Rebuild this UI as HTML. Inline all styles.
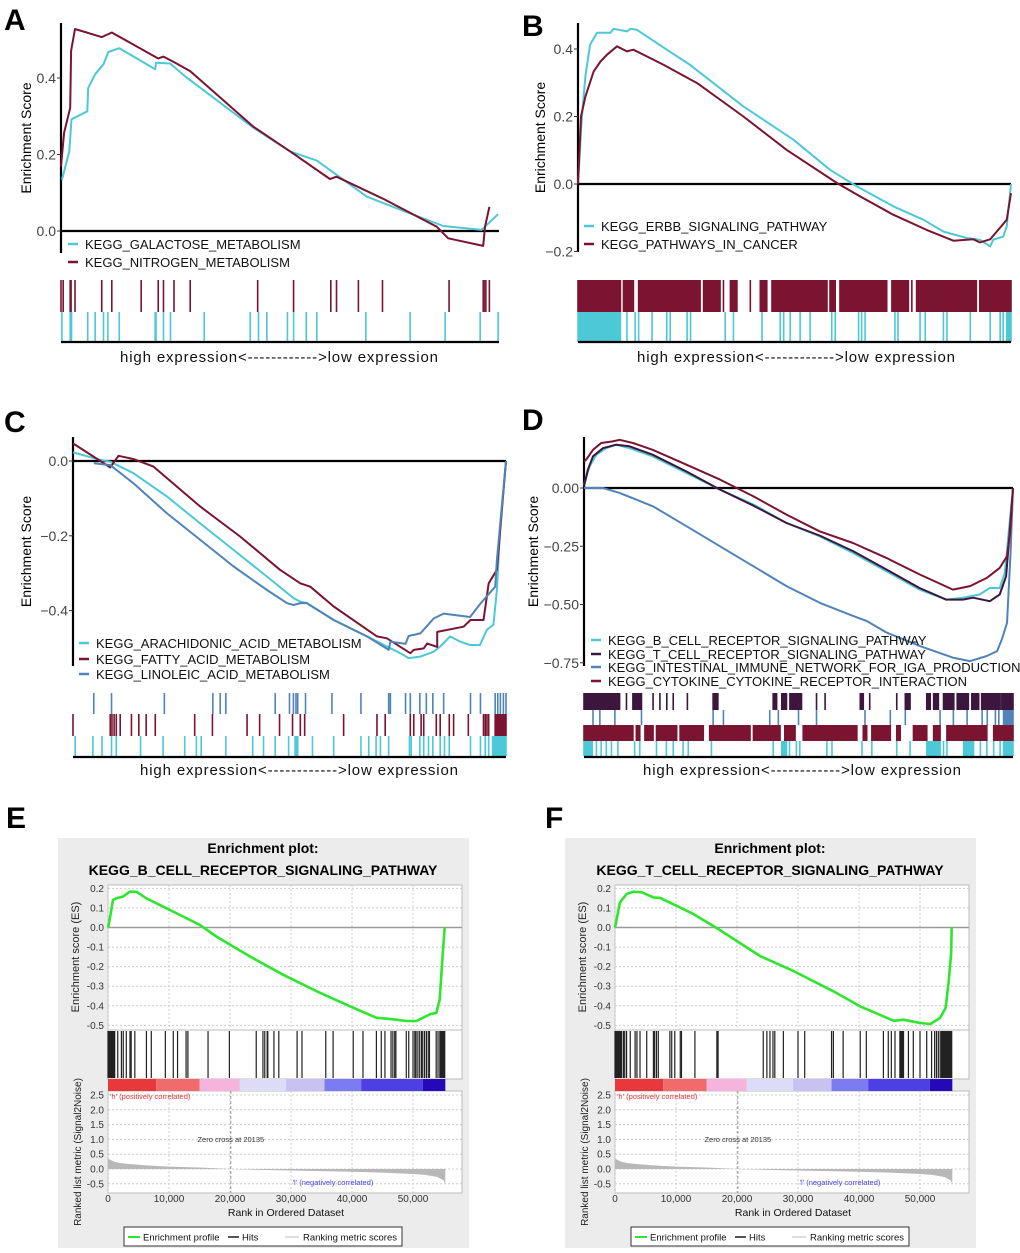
<!DOCTYPE html>
<html><head><meta charset="utf-8">
<style>
html,body{margin:0;padding:0;background:#fff;}
svg{display:block;font-family:"Liberation Sans",Arial,sans-serif;}
</style></head>
<body>
<svg id="fig" width="1020" height="1253" viewBox="0 0 1020 1253">
<rect x="0" y="0" width="1020" height="1253" fill="#fff"/>
<text x="4" y="30" font-size="30" font-weight="bold">A</text>
<text x="522" y="36" font-size="30" font-weight="bold">B</text>
<text x="4" y="432" font-size="30" font-weight="bold">C</text>
<text x="522" y="430" font-size="30" font-weight="bold">D</text>
<text x="6" y="828" font-size="30" font-weight="bold">E</text>
<text x="545" y="828" font-size="30" font-weight="bold">F</text>
</svg>
<script>
const NS='http://www.w3.org/2000/svg';
const fig=document.getElementById('fig');
const CY='#4cc8d6', RD='#7b1430', BL='#4f83b9', PU='#3d163d';

// ---------- Panel A data (rank %, enrichment score) ----------
const aGalRank=[0.2,1.9,2.4,6.0,6.2,7.8,9.7,10.8,13.3,21.5,21.7,24.9,28.7,43.9,52.3,58.4,69.8,79.7,87.3,96.0,99.8];
const aGalES=[0.134,0.208,0.292,0.313,0.374,0.41,0.436,0.468,0.478,0.423,0.44,0.438,0.401,0.27,0.208,0.184,0.09,0.046,0.013,0.003,0.044];
const aNitRank=[0,0.7,2.1,2.3,3.2,9.3,11.6,22.2,23.4,25.6,29.5,43.9,53.0,61.4,62.9,73.6,85.8,88.4,96.4,96.8,97.8];
const aNitES=[0.169,0.257,0.322,0.471,0.528,0.507,0.519,0.451,0.456,0.443,0.418,0.273,0.203,0.136,0.142,0.084,0.011,-0.019,-0.039,0.011,0.063];
const aNitHits=[0,0.5,2.1,2.3,3.2,9.3,11.6,18.3,22.2,23.4,25.8,29.5,44.9,53.1,61.6,62.9,67.9,73.4,88.6,96.4,96.6,97.0,97.8];
const aGalHits=[0.2,2.1,2.4,6.1,7.8,9.7,10.7,13.3,21.5,21.7,23.4,25.0,32.7,43.2,45.1,47.0,51.7,53.1,56.0,58.4,69.6,79.7,87.7,95.7,99.8];

// ---------- Panel B data ----------
const bErbbRank=[0,0.9,1.7,2.8,4.4,7.5,8.2,11.3,12.1,13.6,20.5,25.9,38.2,49.8,58.2,64.4,72.8,79.8,84.4,89.8,92.8,95.2,95.9,98.2,99.0,100];
const bErbbES=[0,0.2,0.319,0.413,0.448,0.448,0.46,0.452,0.46,0.457,0.398,0.353,0.23,0.131,0.042,-0.007,-0.066,-0.106,-0.141,-0.16,-0.165,-0.185,-0.165,-0.156,-0.126,0];
const bCanRank=[0,0.7,1.7,3.6,5.2,6.7,9.0,11.3,12.8,16.7,19.8,27.5,38.2,48.2,59.8,65.2,72.8,80.5,86.7,91.3,92.8,95.2,96.7,99.0,100];
const bCanES=[0,0.2,0.259,0.333,0.363,0.383,0.408,0.393,0.398,0.373,0.353,0.299,0.2,0.101,0.003,-0.037,-0.091,-0.136,-0.168,-0.164,-0.173,-0.164,-0.141,-0.106,-0.027];
const bCanHits=[[0,9.8],[10.5,12.8],[14,28.2],[29,32.8],33.6,[35.2,36.7],39.8,[42.1,43.6],[44.8,57.5],[58.2,59.4],[60.5,71.3],[72.5,76.3],77.1,[78.2,92],[92.8,100]];
const bErbbHits=[[0,9.8],11.3,13.2,14.0,17.1,20.5,21.3,25.2,26.0,34.0,35.9,42.5,46.7,47.5,49.0,51.3,53.6,58.6,59.4,64.8,65.5,66.3,73.2,73.9,79.0,80.2,84.4,85.2,90.6,95.2,97.5,98.2,[99,100]];

// ---------- Panel C data ----------
const cAraRank=[0,6.3,8.6,14.0,21.7,29.4,37.1,44.8,51.0,52.5,54.0,60.2,67.9,75.6,77.5,80.2,83.3,84.8,87.1,89.4,91.7,94.0,95.6,97.1,97.9,98.7,100];
const cAraES=[0.023,0.003,-0.002,-0.033,-0.095,-0.167,-0.238,-0.309,-0.367,-0.376,-0.38,-0.425,-0.469,-0.514,-0.527,-0.523,-0.51,-0.496,-0.469,-0.483,-0.492,-0.492,-0.451,-0.438,-0.345,-0.166,0];
const cFatRank=[0,8.6,10.5,14.0,18.6,29.4,38.6,47.8,52.5,54.8,60.2,70.2,72.5,77.9,78.7,81.0,81.8,84.1,84.1,90.2,91.8,94.8,96.0,97.9,100];
const cFatES=[0.047,-0.017,0.014,0.005,-0.015,-0.122,-0.202,-0.291,-0.327,-0.336,-0.389,-0.469,-0.474,-0.514,-0.505,-0.501,-0.488,-0.497,-0.457,-0.443,-0.425,-0.425,-0.327,-0.291,0];
const cLinRank=[4.8,8.6,14.0,21.7,29.4,37.1,44.8,49.4,50.9,52.5,54.0,60.2,67.9,72.9,73.3,76.8,77.5,80.2,83.3,85.6,91.7,94.1,97.5,97.9,100];
const cLinES=[-0.006,-0.011,-0.06,-0.14,-0.211,-0.282,-0.345,-0.38,-0.385,-0.38,-0.38,-0.425,-0.469,-0.505,-0.483,-0.489,-0.468,-0.461,-0.421,-0.408,-0.417,-0.381,-0.336,-0.265,0];
const cLinHits=[4.8,8.9,21.1,32.3,34.0,35.3,46.7,50.0,50.9,51.5,51.9,53.7,59.8,66.5,72.9,73.3,76.8,77.9,80.1,81.6,83.1,85.6,91.8,94.1,97.5,98.1,98.7,99.4,100];
const cFatHits=[0,8.6,9.0,9.5,10.0,10.9,13.5,15.2,16.9,19.0,28.1,32.2,40.2,43.1,47.7,50.7,52.5,53.5,62.5,70.2,72.1,77.9,78.7,80.4,81.0,83.9,84.8,86.9,87.9,91.3,94.8,95.2,95.6,96.0,[97.5,100]];
const cAraHits=[0.5,4.6,6.7,8.9,10.0,15.6,20.8,25.8,28.5,29.6,35.3,41.5,44.0,46.7,49.8,51.3,51.5,51.7,51.9,55.3,60.2,66.5,68.3,70.0,71.0,72.9,77.7,78.1,80.1,81.0,82.1,83.1,84.8,85.8,86.9,91.8,94.1,95.2,96.0,[96.9,100]];

// ---------- Panel D data ----------
const dBRank=[0,1.3,2.9,5.2,7.5,10.6,16.0,23.9,31.7,39.5,47.2,54.9,62.7,70.5,78.2,84.4,88.3,92.2,94.6,96.9,98.1,99.2,100];
const dBES=[0.014,0.093,0.143,0.171,0.186,0.171,0.136,0.064,-0.007,-0.071,-0.15,-0.207,-0.279,-0.357,-0.436,-0.479,-0.471,-0.457,-0.429,-0.429,-0.364,-0.15,0];
const dTRank=[0,0.9,2.1,4.4,7.5,10.6,16.0,23.9,31.7,39.5,47.2,54.9,62.7,70.5,78.2,84.4,88.3,90.7,94.6,96.9,98.4,99.2,100];
const dTES=[0.007,0.079,0.136,0.171,0.186,0.179,0.143,0.071,-0.007,-0.076,-0.15,-0.204,-0.271,-0.35,-0.429,-0.479,-0.479,-0.471,-0.486,-0.457,-0.379,-0.193,0];
const dIgaRank=[0,4.4,8.3,16.1,23.9,31.7,39.5,47.2,55.0,62.8,65.9,70.6,78.4,86.2,90.0,93.9,96.3,97.4,98.6,99.4,100];
const dIgaES=[0,0,-0.021,-0.079,-0.164,-0.25,-0.336,-0.421,-0.493,-0.55,-0.571,-0.621,-0.679,-0.729,-0.743,-0.721,-0.7,-0.65,-0.579,-0.293,0];
const dCytRank=[0,0.5,2.1,4.0,6.7,8.3,11.4,16.0,23.9,31.7,39.5,47.2,54.9,62.7,70.5,78.2,86.0,90.0,93.9,96.9,98.6,99.4,100];
const dCytES=[0.114,0.121,0.164,0.193,0.2,0.207,0.193,0.164,0.1,0.036,-0.036,-0.114,-0.186,-0.236,-0.3,-0.371,-0.436,-0.421,-0.386,-0.343,-0.293,-0.179,0];
const dTHits=[[0,2.5],[2.7,8.3],9.9,[11.4,13.4],16.1,17.7,19.3,20.8,24.1,[30.1,31.2],[44.1,44.9],[46.1,47.2],[48,50.7],54.2,56.2,[64.4,65.1],66.6,72.9,[74.9,76],[79.9,80.7],[81.5,82.6],[83.8,86.2],[87,89.6],[90.4,92],[92.7,97],[97.4,100]];
const dIgaHits=[2.1,3.7,7.2,13.4,30.1,32.5,43.3,45.3,50.0,54.2,65.5,71.4,74.9,83.0,86.1,89.3,92.8,94.0,95.9,96.7,[97.8,100]];
const dCytHits=[[0,11.4],[12.2,13],[14.2,16.1],[16.9,21.6],[22.4,27.8],[29.3,38.7],[39.5,45.7],[46.8,49.2],[51.1,63.6],[65.1,65.9],[67.1,71.4],[72.9,73.7],[76.8,79.9],[81.5,83],[84.6,93.9],[95.5,100]];
const dBHits=[[0,1.9],2.9,4.0,5.2,6.4,7.9,11.8,13.0,16.9,19.2,20.8,23.1,24.3,29.7,44.1,[46.1,47.2],47.9,49.5,50.3,56.6,57.8,64.8,67.1,72.9,76.0,[79.9,83],83.8,84.6,[88.5,90.8],92.4,93.9,95.5,97.0,[97.8,100]];

// ---------- Panels E/F data (rank in thousands) ----------
const eRank=[0,0.27,0.82,1.37,2.46,3.55,4.65,6.28,9.02,12.3,15.03,17.76,23.22,28.69,34.15,39.62,43.99,46.72,48.91,50.55,52.73,53.83,54.37,54.92,55.19];
const eES=[0,0.039,0.141,0.149,0.158,0.183,0.183,0.149,0.107,0.056,0.014,-0.046,-0.147,-0.241,-0.325,-0.402,-0.461,-0.469,-0.478,-0.478,-0.444,-0.436,-0.368,-0.114,0];
const eHits=[[0,1.1],1.6,2.2,2.5,3.0,3.6,3.8,4.4,6.3,7.1,9.4,10.7,11.4,12.8,13.1,16.4,19.9,24.3,25.4,25.7,26.1,26.2,27.2,28.0,31.0,31.8,35.7,36.9,40.2,41.8,44.0,44.8,45.4,46.4,46.7,47.0,47.2,48.9,49.3,50.0,50.3,50.5,50.8,51.1,51.4,51.6,51.9,52.2,52.5,52.7,53.8,54.1,[54.4,55.2]];
const fRank=[0,0.28,0.8,1.9,3.0,4.4,6.3,7.4,10.1,12.9,16.7,23.8,29.3,35.8,40.2,45.7,47.3,50.0,51.7,53.3,54.2,54.7,55.1,55.2];
const fES=[0,0.043,0.128,0.171,0.183,0.18,0.154,0.151,0.111,0.068,-0.003,-0.146,-0.223,-0.326,-0.403,-0.477,-0.471,-0.488,-0.493,-0.462,-0.411,-0.274,-0.137,0];
const fHits=[[0,1.1],1.4,1.6,1.9,2.5,3.3,3.6,4.1,5.2,6.3,6.5,6.8,7.1,9.0,9.3,9.8,10.7,10.9,13.1,16.7,16.9,24.3,24.9,25.4,25.9,26.2,27.6,30.0,31.1,35.5,35.8,37.4,40.2,41.2,44.0,44.8,45.3,45.9,[46.7,47.3],48.1,48.9,50.0,51.1,51.9,52.4,52.7,53.0,53.3,[53.5,55.2]];
const metricRank=[0,0.5,1,2,4,6,8,10,15,20.135,25,30,35,40,45,50,52,54,55,55.3];
const metricVal=[0.35,0.3,0.25,0.2,0.16,0.13,0.1,0.08,0.05,0,-0.03,-0.05,-0.07,-0.09,-0.12,-0.17,-0.2,-0.27,-0.38,-0.5];
const esTicks=[0.2,0.1,0,-0.1,-0.2,-0.3,-0.4,-0.5];
const esTickLabels=['0.2','0.1','0.0','-0.1','-0.2','-0.3','-0.4','-0.5'];
const metricTicks=[2.5,2.0,1.5,1.0,0.5,0.0,-0.5];
const metricTickLabels=['2.5','2.0','1.5','1.0','0.5','0.0','-0.5'];
const rankTicks=[0,10,20,30,40,50];
const rankTickLabels=['0','10,000','20,000','30,000','40,000','50,000'];
const barColors=['#e8383c','#f26b6b','#f6b4dc','#dcdcf6','#c8c2f2','#7c7cf2','#4d3fe4','#2508b8'];
const barStops=[0,7.9,15,21.6,29.2,35.5,41.5,51.6,55.3];

function el(tag,attrs,parent){const e=document.createElementNS(NS,tag);for(const k in attrs)e.setAttribute(k,attrs[k]);parent.appendChild(e);return e;}
function txt(parent,x,y,s,size,extra){const t=el('text',Object.assign({x:x,y:y,'font-size':size},extra||{}),parent);t.textContent=s;return t;}

function drawHits(g,hits,xs,y0,y1,color,w){
  hits.forEach(h=>{
    let r;
    if(Array.isArray(h)){const a=xs(h[0]),b=xs(h[1]);r=el('rect',{x:a-w/2,y:y0,width:Math.max(b-a+w,w),height:y1-y0,fill:color},g);}
    else{r=el('rect',{x:xs(h)-w/2,y:y0,width:w,height:y1-y0,fill:color},g);}
    
    
  });
}

function topPanel(cfg){
  const g=el('g',{},fig);
  
  
  const xs=p=>cfg.x0+p/100*(cfg.x1-cfg.x0);
  const ys=v=>cfg.zeroY-v*cfg.ppu;
  const yl=el('line',{x1:cfg.x0,y1:cfg.axisTop,x2:cfg.x0,y2:cfg.axisBot,stroke:'#000','stroke-width':2.2},g);
  
  
  cfg.ticks.forEach((v,i)=>{
    const tk=el('line',{x1:cfg.x0-4,y1:ys(v),x2:cfg.x0,y2:ys(v),stroke:'#333','stroke-width':1},g);
    
    
    const t=txt(g,cfg.x0-5,ys(v)+5,cfg.tickLabels[i],14,{'text-anchor':'end',fill:'#444'});
    
    
  });
  const yt=txt(g,0,0,'Enrichment Score',14,{'text-anchor':'middle',transform:`translate(${cfg.titleX},${(cfg.axisTop+cfg.axisBot)/2}) rotate(-90)`});
  
  
  const zl=el('line',{x1:cfg.x0,y1:ys(0),x2:cfg.x1,y2:ys(0),stroke:'#000','stroke-width':2.2},g);
  
  
  cfg.series.forEach(s=>{
    const pts=s.r.map((r,i)=>xs(r).toFixed(1)+','+ys(s.v[i]).toFixed(1)).join(' ');
    const pl=el('polyline',{points:pts,fill:'none',stroke:s.color,'stroke-width':2,'stroke-linejoin':'round'},g);
    
    
  });
  cfg.series.forEach((s,i)=>{
    const ly=cfg.legY[i];
    const ll=el('line',{x1:cfg.legX-17,y1:ly,x2:cfg.legX-7,y2:ly,stroke:s.color,'stroke-width':2.5},g);
    
    
    const lt=txt(g,cfg.legX,ly+5,s.label,13,{fill:'#111'});
    
    
  });
  cfg.rows.forEach(row=>drawHits(g,row.hits,xs,row.y0,row.y1,row.color,1.6));
  const bl=el('line',{x1:cfg.x0,y1:cfg.base,x2:cfg.x1,y2:cfg.base,stroke:'#000','stroke-width':2.2},g);
  
  
  const cp=txt(g,cfg.capX,cfg.capY,'high expression<------------>low expression',15,{'text-anchor':'middle',fill:'#111',textLength:318,lengthAdjust:'spacing'});
  
  
}

topPanel({name:'panel-a',x0:61,x1:499,zeroY:231,ppu:382.5,axisTop:23,axisBot:253,ticks:[0,0.2,0.4],tickLabels:['0.0','0.2','0.4'],titleX:31,
  series:[{key:'galactose',r:aGalRank,v:aGalES,color:CY,label:'KEGG_GALACTOSE_METABOLISM'},{key:'nitrogen',r:aNitRank,v:aNitES,color:RD,label:'KEGG_NITROGEN_METABOLISM'}],
  legX:85,legY:[244,262],rows:[{hits:aNitHits,y0:280,y1:312,color:RD},{hits:aGalHits,y0:312,y1:342,color:CY}],base:342,capX:279,capY:362});
topPanel({name:'panel-b',x0:578,x1:1011,zeroY:184,ppu:337.5,axisTop:23,axisBot:252,ticks:[-0.2,0,0.2,0.4],tickLabels:['\u22120.2','0.0','0.2','0.4'],titleX:545,
  series:[{key:'erbb',r:bErbbRank,v:bErbbES,color:CY,label:'KEGG_ERBB_SIGNALING_PATHWAY'},{key:'cancer',r:bCanRank,v:bCanES,color:RD,label:'KEGG_PATHWAYS_IN_CANCER'}],
  legX:601,legY:[226,244],rows:[{hits:bCanHits,y0:280,y1:312,color:RD},{hits:bErbbHits,y0:312,y1:342,color:CY}],base:342,capX:796,capY:362});
topPanel({name:'panel-c',x0:73,x1:506,zeroY:461,ppu:374,axisTop:437,axisBot:666,ticks:[-0.4,-0.2,0],tickLabels:['\u22120.4','\u22120.2','0.0'],titleX:31,
  series:[{key:'arachidonic',r:cAraRank,v:cAraES,color:CY,label:'KEGG_ARACHIDONIC_ACID_METABOLISM'},{key:'fatty',r:cFatRank,v:cFatES,color:RD,label:'KEGG_FATTY_ACID_METABOLISM'},{key:'linoleic',r:cLinRank,v:cLinES,color:BL,label:'KEGG_LINOLEIC_ACID_METABOLISM'}],
  legX:96,legY:[643,659,674],rows:[{hits:cLinHits,y0:693,y1:714,color:BL},{hits:cFatHits,y0:714,y1:736,color:RD},{hits:cAraHits,y0:736,y1:756,color:CY}],base:757,capX:299,capY:775});
topPanel({name:'panel-d',x0:584,x1:1013,zeroY:488,ppu:233,axisTop:437,axisBot:666,ticks:[-0.75,-0.5,-0.25,0],tickLabels:['\u22120.75','\u22120.50','\u22120.25','0.00'],titleX:538,
  series:[{key:'bcell',r:dBRank,v:dBES,color:CY,label:'KEGG_B_CELL_RECEPTOR_SIGNALING_PATHWAY'},{key:'tcell',r:dTRank,v:dTES,color:PU,label:'KEGG_T_CELL_RECEPTOR_SIGNALING_PATHWAY'},{key:'iga',r:dIgaRank,v:dIgaES,color:BL,label:'KEGG_INTESTINAL_IMMUNE_NETWORK_FOR_IGA_PRODUCTION'},{key:'cytokine',r:dCytRank,v:dCytES,color:RD,label:'KEGG_CYTOKINE_CYTOKINE_RECEPTOR_INTERACTION'}],
  legX:608,legY:[640,654,667,681],rows:[{hits:dTHits,y0:693,y1:710,color:PU},{hits:dIgaHits,y0:710,y1:725,color:BL},{hits:dCytHits,y0:725,y1:741,color:RD},{hits:dBHits,y0:741,y1:756,color:CY}],base:757,capX:802,capY:775});

function gseaPanel(dx,name,title,rank,es,hits){
  const g=el('g',{},fig);
  
  
  const X0=108+dx, PW=354;
  const xs=k=>X0+k*6.1;
  const yES=v=>927.5-v*195.7;
  const yM=v=>1169-v*29.6;
  const box=el('rect',{x:58+dx,y:838,width:411,height:410,fill:'#ececec'},g);
  
  
  const t1=txt(g,263+dx,853,'Enrichment plot:',14,{'text-anchor':'middle','font-weight':'bold'});
  
  
  const t2=txt(g,263+dx,875,title,14,{'text-anchor':'middle','font-weight':'bold'});
  
  
  [[885,1030,'es-plot-area'],[1030,1079,'hits-area'],[1091,1193,'metric-plot-area']].forEach(a=>{
    const r=el('rect',{x:X0,y:a[0],width:PW,height:a[1]-a[0],fill:'#fff',stroke:'#bbb','stroke-width':1},g);
    
    
  });
  rankTicks.forEach(k=>{
    [[885,1030],[1091,1193]].forEach(a=>{
      const gl=el('line',{x1:xs(k),y1:a[0],x2:xs(k),y2:a[1],stroke:'#ccc','stroke-dasharray':'2,2'},g);
      
      
    });
  });
  esTicks.forEach((v,i)=>{
    const gl=el('line',{x1:X0,y1:yES(v),x2:X0+PW,y2:yES(v),stroke:v===0?'#999':'#ccc','stroke-width':v===0?1.5:1,'stroke-dasharray':v===0?'none':'2,2'},g);
    
    
    const t=txt(g,X0-4,yES(v)+3.5,esTickLabels[i],10,{'text-anchor':'end',fill:'#333'});
    
    
  });
  metricTicks.forEach((v,i)=>{
    const gl=el('line',{x1:X0,y1:yM(v),x2:X0+PW,y2:yM(v),stroke:'#ccc','stroke-dasharray':'2,2'},g);
    
    
    const t=txt(g,X0-4,yM(v)+3.5,metricTickLabels[i],10,{'text-anchor':'end',fill:'#333'});
    
    
  });
  const ep=es.map((v,i)=>xs(rank[i]).toFixed(1)+','+yES(v).toFixed(1)).join(' ');
  const cur=el('polyline',{points:ep,fill:'none',stroke:'#2ee62e','stroke-width':2.6,'stroke-linejoin':'round'},g);
  
  
  drawHits(g,hits,xs,1031,1078,'#222',1.2);
  for(let i=0;i<barColors.length;i++){
    const r=el('rect',{x:xs(barStops[i]),y:1079,width:xs(barStops[i+1])-xs(barStops[i]),height:12,fill:barColors[i]},g);
    
    
  }
  let ap='M'+xs(metricRank[0])+','+yM(0);
  metricRank.forEach((k,i)=>{ap+=' L'+xs(k).toFixed(1)+','+yM(metricVal[i]).toFixed(1);});
  ap+=' L'+xs(metricRank[metricRank.length-1])+','+yM(0)+' Z';
  const area=el('path',{d:ap,fill:'#b8b8b8'},g);
  
  
  const zc=el('line',{x1:xs(20.135),y1:1091,x2:xs(20.135),y2:1193,stroke:'#999','stroke-dasharray':'3,2'},g);
  
  
  const zt=txt(g,xs(20.135),1142,'Zero cross at 20135',7.5,{'text-anchor':'middle',fill:'#333'});
  
  
  const hp=txt(g,X0+2,1099,"'h' (positively correlated)",7.5,{fill:'#ee3333'});
  
  
  const ln=txt(g,X0+225,1185,"'l' (negatively correlated)",7.5,{'text-anchor':'middle',fill:'#4444ee'});
  
  
  rankTicks.forEach((k,i)=>{
    const t=txt(g,xs(k),1202,rankTickLabels[i],10,{'text-anchor':'middle',fill:'#333'});
    
    
  });
  const xt=txt(g,X0+178,1216,'Rank in Ordered Dataset',10.5,{'text-anchor':'middle',fill:'#111'});
  
  
  const y1=txt(g,0,0,'Enrichment score (ES)',11,{'text-anchor':'middle',transform:`translate(${79+dx},957) rotate(-90)`,fill:'#222'});
  
  
  const y2=txt(g,0,0,'Ranked list metric (Signal2Noise)',10,{'text-anchor':'middle',transform:`translate(${81+dx},1152) rotate(-90)`,fill:'#222'});
  
  
  const lg=el('rect',{x:124+dx,y:1227,width:278,height:19,fill:'#fff',stroke:'#333','stroke-width':1},g);
  
  
  [[128,140,'#2ee62e','Enrichment profile',143],[228,239,'#555','Hits',242],[285,299,'#ddd','Ranking metric scores',303]].forEach(e=>{
    const l=el('line',{x1:e[0]+dx,y1:1237,x2:e[1]+dx,y2:1237,stroke:e[2],'stroke-width':2},g);
    
    
    const t=txt(g,e[4]+dx,1240.5,e[3],9.5,{fill:'#111'});
    
    
  });
}
gseaPanel(0,'panel-e','KEGG_B_CELL_RECEPTOR_SIGNALING_PATHWAY',eRank,eES,eHits);
gseaPanel(507,'panel-f','KEGG_T_CELL_RECEPTOR_SIGNALING_PATHWAY',fRank,fES,fHits);
</script>
</body></html>
